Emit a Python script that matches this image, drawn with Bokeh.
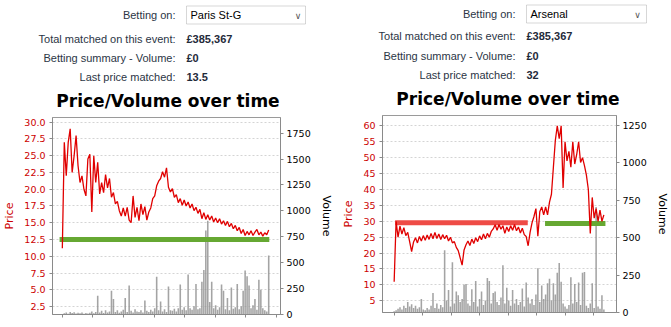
from bokeh.plotting import figure
from bokeh.models import (Range1d, LinearAxis, FixedTicker, Label, NumeralTickFormatter,
                          BoxAnnotation, CustomJSTickFormatter)
from bokeh.layouts import row, column
from bokeh.embed import file_html
from bokeh.resources import INLINE

# ---------------- data ----------------
header_labels = ["Betting on:", "Total matched on this event:",
                 "Betting summary - Volume:", "Last price matched:"]

left_selection = "Paris St-G"
left_values = ["£385,367", "£0", "13.5"]
right_selection = "Arsenal"
right_values = ["£385,367", "£0", "32"]

chart_title = "Price/Volume over time"

left_price = [
    11.2, 27.0, 22.0, 27.0, 29.0, 22.5, 25.0, 28.0, 23.5, 21.0,
    22.0, 20.0, 19.0, 24.5, 25.2, 16.6, 25.0, 21.0, 24.0, 19.3,
    21.0, 19.5, 22.2, 20.2, 21.6, 18.8, 19.5, 17.8, 18.2, 16.8,
    16.0, 17.2, 16.0, 17.3, 15.4, 15.0, 19.0, 15.8, 17.3, 15.3,
    17.8, 16.2, 17.4, 15.4, 16.6, 17.2, 18.6, 19.0, 20.5, 21.2,
    21.6, 22.6, 21.8, 23.2, 20.3, 19.6, 20.1, 18.8, 19.2, 18.0,
    18.6, 17.6, 18.4, 17.5, 18.1, 17.2, 17.8, 16.8, 17.3, 16.4,
    17.0, 15.6, 16.5, 15.5, 16.2, 15.4, 16.0, 15.1, 15.7, 15.0,
    15.6, 14.8, 15.3, 14.6, 15.2, 14.4, 14.9, 14.1, 14.6, 13.8,
    14.3, 13.4, 14.0, 13.1, 13.7, 13.2, 13.8, 13.1, 13.6, 14.0,
    13.2, 13.6, 13.0, 13.5, 13.2, 13.9,
]
left_volume = [
    5, 12, 20, 8, 25, 15, 22, 10, 18, 12,
    20, 8, 15, 10, 18, 30, 12, 25, 180, 20,
    35, 15, 40, 20, 30, 230, 150, 25, 40, 18,
    30, 45, 160, 25, 280, 35, 20, 50, 30, 25,
    40, 20, 135, 35, 25, 45, 30, 60, 365, 40,
    125, 30, 50, 25, 270, 40, 35, 55, 30, 60,
    290, 45, 70, 40, 385, 60, 45, 80, 295, 50,
    60, 315, 430, 810, 905, 120, 315, 60, 90, 45,
    70, 290, 230, 50, 160, 40, 260, 55, 70, 295,
    50, 80, 230, 425, 370, 280, 60, 90, 150, 45,
    335, 240, 60, 40, 30, 570,
]
left_green_level = 12.5
left_green_span = [-1.4, 105.3]

right_price = [
    11.0, 30.0, 25.0, 28.5, 26.0, 28.0, 25.5, 26.5, 23.5, 20.5,
    23.5, 24.8, 23.2, 25.2, 23.8, 25.5, 24.0, 25.7, 24.3, 26.2,
    24.5, 26.5, 24.6, 26.0, 24.3, 25.8, 24.5, 25.6, 23.8, 25.0,
    23.2, 23.6, 21.8, 20.8, 18.5, 16.2, 21.0, 22.6, 23.8, 22.4,
    24.4, 23.0, 24.8, 23.6, 25.4, 24.2, 26.0, 24.5, 26.2, 25.0,
    26.8, 27.6, 28.9, 27.2, 29.0, 27.5, 28.6, 26.2, 28.2, 26.8,
    28.6, 27.2, 29.0, 27.0, 28.2, 26.3, 27.8, 25.8, 25.2, 22.3,
    26.5, 29.5, 31.5, 34.0, 25.3, 33.0, 34.5, 32.0, 34.5, 32.0,
    36.0, 38.5, 47.0, 55.4, 60.0, 56.0, 60.0, 40.5, 55.0, 49.0,
    52.0, 47.0, 55.0, 48.0, 51.0, 55.0, 48.5, 50.0, 47.5, 44.5,
    40.0, 26.2, 37.5, 31.0, 34.0, 30.0, 33.5, 30.0, 32.0,
]
right_volume = [
    8, 15, 25, 35, 20, 45, 30, 70, 40, 55,
    30, 45, 25, 35, 90, 20, 15, 30, 20, 45,
    130, 30, 60, 25, 50, 35, 415, 80, 150, 40,
    335, 60, 140, 115, 70, 90, 185, 190, 60, 45,
    155, 70, 210, 40, 90, 140, 50, 80, 230, 210,
    60, 130, 140, 70, 50, 100, 315, 60, 165, 80,
    45, 150, 60, 90, 50, 70, 160, 40, 200, 100,
    60, 90, 50, 120, 295, 70, 180, 90, 120, 195,
    225, 80, 195, 120, 265, 330, 205, 60, 40, 25,
    50, 235, 60, 190, 70, 200, 50, 265, 270, 45,
    30, 60, 195, 30, 705, 40, 25, 115, 20,
]
right_red_level = 29.5
right_red_span = [0.5, 68.8]
right_green_level = 29.3
right_green_span = [77.7, 108.8]

left_price_ticks = [2.5, 5.0, 7.5, 10.0, 12.5, 15.0, 17.5, 20.0, 22.5, 25.0, 27.5, 30.0]
left_volume_ticks = [0, 250, 500, 750, 1000, 1250, 1500, 1750]
right_price_ticks = [5, 10, 15, 20, 25, 30, 35, 40, 45, 50, 55, 60]
right_volume_ticks = [0, 250, 500, 750, 1000, 1250]

# ---------------- style ----------------
TEXT = "#2b3545"
VALUE = "#1f2a3a"
RED_TXT = "#cc0000"
LINE_RED = "#e00000"
BAR_RED = "#ee4b46"
GREEN = "#66a832"
GRID = "#d4d4d4"
AXIS = "#8a8a8a"
HFONT = "Liberation Sans"
TFONT = "DejaVu Sans"
HDR_H = 110
TOTAL_H = 327


def make_header(width, hdr, selection, values):
    lab_x, val_x, ys, box_r, chev_x, title_x, title_y = hdr
    h = figure(width=width, height=HDR_H, x_range=Range1d(0, width), y_range=Range1d(HDR_H, 0),
               output_backend="svg", toolbar_location=None, title=None,
               x_axis_location=None, y_axis_location=None, frame_align=False,
               min_border_left=0, min_border_right=0, min_border_top=0, min_border_bottom=0,
               outline_line_color=None, background_fill_color="white", border_fill_color="white")
    h.grid.visible = False

    def txt(x, y, text, align="left", size="11px", font=HFONT, style="normal", color=TEXT):
        h.add_layout(Label(x=x, y=y, text=text, text_align=align, text_baseline="middle",
                           text_font_size=size, text_font=font, text_font_style=style,
                           text_color=color))

    h.add_layout(BoxAnnotation(left=val_x, right=box_r, top=ys[0] - 9, bottom=ys[0] + 9,
                               fill_color="white", fill_alpha=1.0, line_color="#7a7a7a",
                               line_width=1))
    txt(lab_x, ys[0], header_labels[0], align="right")
    txt(val_x + 4, ys[0], selection, color="black")
    txt(chev_x, ys[0] + 1, "∨", align="center", size="9px", font=TFONT, color="#555555")
    for lab, v, y in zip(header_labels[1:], values, ys[1:]):
        txt(lab_x, y, lab, align="right")
        txt(val_x, y, v, style="bold", color=VALUE)
    txt(title_x, title_y, chart_title, align="center", size="17px", font="DejaVu Sans",
        style="bold", color="black")
    return h


def make_plot(width, fl, fr, ft, fb_margin, xr, yr, vr, price, volume, p_ticks, v_ticks,
              p_fmt, tick_step, levels):
    p = figure(width=width, height=TOTAL_H - HDR_H, x_range=Range1d(*xr), y_range=Range1d(*yr),
               output_backend="svg", toolbar_location=None, title=None, frame_align=False,
               min_border_left=fl, min_border_right=fr, min_border_top=ft,
               min_border_bottom=fb_margin, background_fill_color="white",
               border_fill_color="white", outline_line_color="#9a9a9a")
    p.extra_y_ranges = {"vol": Range1d(*vr)}

    xs = list(range(len(price)))
    p.vbar(x=list(range(len(volume))), top=volume, bottom=0, width=0.8, y_range_name="vol",
           fill_color="#949494", line_color=None, fill_alpha=0.85)
    for lvl, span, col in levels:
        p.segment(x0=[span[0]], y0=[lvl], x1=[span[1]], y1=[lvl], line_color=col,
                  line_width=5, line_cap="butt")
    p.line(xs, price, line_color=LINE_RED, line_width=1.3)

    ya = p.yaxis[0]
    ya.ticker = FixedTicker(ticks=p_ticks)
    ya.formatter = NumeralTickFormatter(format=p_fmt)
    ya.axis_label = "Price"
    ya.axis_label_text_color = RED_TXT
    ya.axis_label_text_font = TFONT
    ya.axis_label_text_font_size = "11px"
    ya.axis_label_text_font_style = "normal"
    ya.axis_label_standoff = 5
    ya.major_label_text_color = RED_TXT
    ya.major_label_text_font = TFONT
    ya.major_label_text_font_size = "9.5px"
    ya.major_label_standoff = 4
    ya.major_tick_out = 3
    ya.major_tick_in = 0
    ya.minor_tick_line_color = None
    ya.axis_line_color = AXIS
    ya.major_tick_line_color = AXIS

    va = LinearAxis(y_range_name="vol", ticker=FixedTicker(ticks=v_ticks),
                    formatter=NumeralTickFormatter(format="0"))
    va.axis_label = "Volume"
    va.axis_label_text_color = "black"
    va.axis_label_text_font = TFONT
    va.axis_label_text_font_size = "11px"
    va.axis_label_text_font_style = "normal"
    va.axis_label_standoff = 6
    va.major_label_text_color = "black"
    va.major_label_text_font = TFONT
    va.major_label_text_font_size = "9.5px"
    va.major_label_standoff = 3
    va.major_tick_out = 3
    va.major_tick_in = 0
    va.minor_tick_line_color = None
    va.axis_line_color = AXIS
    va.major_tick_line_color = AXIS
    p.add_layout(va, "right")

    xa = p.xaxis[0]
    xa.ticker = FixedTicker(ticks=[k * tick_step for k in range(8)])
    xa.formatter = CustomJSTickFormatter(code="return ''")
    xa.major_label_text_font_size = "1px"
    xa.major_label_standoff = 0
    xa.major_tick_out = 3
    xa.major_tick_in = 0
    xa.minor_tick_line_color = None
    xa.axis_line_color = AXIS
    xa.major_tick_line_color = AXIS

    p.xgrid.visible = False
    p.ygrid.grid_line_color = GRID
    p.ygrid.grid_line_dash = "2 2"
    return p


h1 = make_header(335, (175, 186, [14.5, 38, 57, 76], 305, 297.5, 167.5, 100),
                 left_selection, left_values)
p1 = make_plot(335, 51, 52, 117 - HDR_H, 13, (-5, 111), (1.31, 30.70), (0, 1901),
               left_price, left_volume, left_price_ticks, left_volume_ticks, "0.0", 15.55,
               [(left_green_level, left_green_span, GREEN)])
h2 = make_header(336, (180, 191, [13.5, 35.7, 55, 74], 311, 302, 172.5, 98),
                 right_selection, right_values)
p2 = make_plot(336, 47, 48, 115 - HDR_H, 15, (-6, 114.5), (1.32, 63.26), (0, 1315),
               right_price, right_volume, right_price_ticks, right_volume_ticks, "0", 14.67,
               [(right_red_level, right_red_span, BAR_RED), (right_green_level, right_green_span, GREEN)])

layout = row(column(h1, p1), column(h2, p2))
open("out.html", "w").write(file_html(layout, INLINE))
